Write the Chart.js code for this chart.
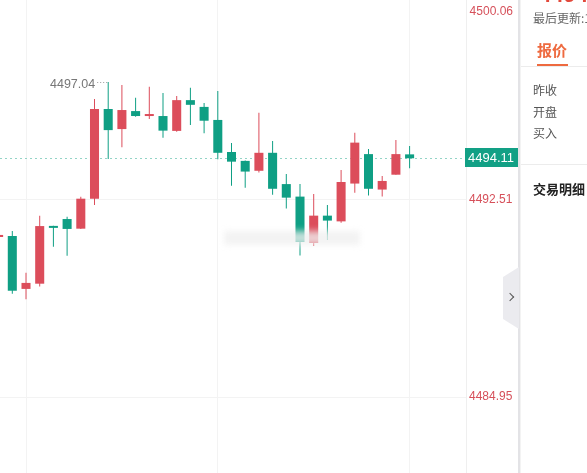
<!DOCTYPE html>
<html>
<head>
<meta charset="utf-8">
<script src="https://cdn.jsdelivr.net/npm/chart.js@4.4.1/dist/chart.umd.min.js"></script>
<style>
    body { margin: 0; background: #fff; }
    #tela { position: relative; width: 587px; height: 473px; overflow: hidden; font-family: "Noto Sans CJK SC", sans-serif; }
    #grafico { position: absolute; left: 0; top: 0; width: 518px; height: 473px; }
    #separador { position: absolute; left: 518px; top: 0; width: 2px; height: 473px; background: #e3e3e6; }
    #aba { position: absolute; left: 503px; top: 267px; width: 16px; height: 62px; background: #ebebef;
        clip-path: polygon(0 10px, 100% 0, 100% 100%, 0 calc(100% - 10px)); }
    #aba span { position: absolute; left: 4px; top: 27px; width: 5px; height: 5px;
        border-top: 1.5px solid #555; border-right: 1.5px solid #555; transform: rotate(45deg); }
    #marca { position: absolute; left: 224px; top: 231px; width: 136px; height: 14px;
        background: rgba(240, 240, 240, 0.8); filter: blur(3px); }
    #painel { position: absolute; left: 520px; top: 0; width: 67px; height: 473px; overflow: hidden;
        border-left: 1px solid #f3f3f3; box-sizing: border-box; }
    #painel div { position: absolute; white-space: nowrap; }
    .preco { left: 18px; top: -18px; font: bold 22px "Liberation Sans", sans-serif; color: #e2493b; }
    .atual { left: 12px; top: 9px; font-size: 12px; color: #666; }
    .aba-ativa { left: 16px; top: 39px; font-size: 15px; font-weight: bold; color: #ee6a3f; }
    .sublinhado { left: 16px; top: 64px; width: 31px; height: 2px; background: #ee6a3f; }
    .linha { left: 0; width: 67px; height: 1px; background: #ececec; }
    .item { left: 12px; font-size: 12px; color: #555; }
    .titulo { left: 12px; top: 179px; font-size: 13px; font-weight: bold; color: #222; }
</style>
</head>
<body>
<div id="tela">
    <div id="grafico"><canvas id="candleChart"></canvas></div>
    <div id="marca"></div>
    <div id="separador"></div>
    <div id="aba"><span></span></div>
    <div id="painel">
        <div class="preco">4494.11</div>
        <div class="atual">最后更新:10:25:31</div>
        <div class="aba-ativa">报价</div>
        <div class="sublinhado"></div>
        <div class="linha" style="top:66px"></div>
        <div class="item" style="top:81px">昨收</div>
        <div class="item" style="top:103px">开盘</div>
        <div class="item" style="top:124px">买入</div>
        <div class="linha" style="top:164px"></div>
        <div class="titulo">交易明细</div>
    </div>
</div>
<script>
// candle position (index) and OHLC values
const candleIndex = [-1, 0, 1, 2, 3, 4, 5, 6, 7, 8, 9, 10, 11, 12, 13, 14, 15, 16, 17, 18, 19, 20, 21, 22, 23, 24, 25, 26, 27, 28, 29];
const opens  = [4491.09, 4491.13, 4489.10, 4489.30, 4491.51, 4491.78, 4491.41, 4492.56, 4496.00, 4495.23, 4495.92, 4495.73, 4495.73, 4495.16, 4496.34, 4496.08, 4495.58, 4494.35, 4494.01, 4493.63, 4494.32, 4493.12, 4492.64, 4490.86, 4491.91, 4491.69, 4493.14, 4494.27, 4492.91, 4493.48, 4494.26];
const closes = [4491.17, 4489.03, 4489.33, 4491.51, 4491.44, 4491.40, 4492.56, 4496.00, 4495.19, 4495.96, 4495.73, 4495.79, 4495.17, 4496.34, 4496.16, 4495.55, 4494.32, 4493.98, 4493.60, 4494.32, 4492.94, 4492.60, 4490.90, 4491.91, 4491.72, 4493.20, 4494.71, 4492.94, 4493.24, 4494.27, 4494.11];
const highs  = [4491.22, 4491.32, 4489.72, 4491.91, 4491.52, 4491.87, 4492.63, 4496.38, 4497.04, 4496.92, 4496.43, 4496.85, 4496.61, 4496.50, 4496.81, 4496.23, 4496.69, 4494.70, 4494.02, 4495.86, 4494.77, 4493.51, 4493.12, 4492.74, 4492.32, 4493.66, 4495.09, 4494.47, 4493.43, 4494.81, 4494.58];
const lows   = [4491.05, 4488.91, 4488.70, 4489.19, 4490.72, 4490.37, 4491.40, 4492.32, 4494.08, 4494.53, 4495.70, 4495.62, 4494.90, 4495.13, 4495.39, 4495.07, 4494.07, 4493.06, 4492.98, 4493.56, 4492.71, 4492.18, 4490.38, 4490.75, 4490.98, 4491.64, 4492.79, 4492.68, 4492.64, 4493.48, 4493.73];

const yTicks = [4492.51, 4484.95];
const yTopTick = [4500.06];
const xGridTicks = [1, 15, 29];
const lastPrice = 4494.11;

const corAlta = '#dc4d5b';
const corBaixa = '#0f9f84';
const cores = opens.map((o, i) => closes[i] >= o ? corAlta : corBaixa);

const fonteNum = '"Liberation Sans", Arial, sans-serif';

// dotted price line, price tag and highest value label
const marcasPreco = {
    id: 'marcasPreco',
    beforeDatasetsDraw(chart) {
        const { ctx, chartArea, scales } = chart;
        const py = Math.round(scales.y.getPixelForValue(lastPrice)) + 0.5;
        ctx.save();
        ctx.strokeStyle = '#93d4c6';
        ctx.lineWidth = 1;
        ctx.setLineDash([2, 3]);
        ctx.beginPath();
        ctx.moveTo(chartArea.left, py);
        ctx.lineTo(chartArea.right, py);
        ctx.stroke();
        ctx.restore();
    },
    afterDraw(chart) {
        const { ctx, chartArea, scales } = chart;
        const py = scales.y.getPixelForValue(lastPrice);
        ctx.save();
        ctx.fillStyle = '#12a085';
        ctx.fillRect(chartArea.right - 1, Math.round(py) - 10, chart.width - chartArea.right + 1, 19);
        ctx.fillStyle = '#fff';
        ctx.font = '13px ' + fonteNum;
        ctx.textBaseline = 'middle';
        ctx.fillText(lastPrice.toFixed(2), chartArea.right + 2, Math.round(py));

        let maior = 0;
        for (let i = 0; i < highs.length; i++) {
            if (highs[i] > highs[maior]) maior = i;
        }
        const hx = scales.x.getPixelForValue(candleIndex[maior]);
        const hy = scales.y.getPixelForValue(highs[maior]);
        ctx.strokeStyle = '#9a9a9a';
        ctx.setLineDash([1, 2]);
        ctx.beginPath();
        ctx.moveTo(hx - 11, Math.round(hy) + 0.5);
        ctx.lineTo(hx - 1, Math.round(hy) + 0.5);
        ctx.stroke();
        ctx.fillStyle = '#777';
        ctx.font = '12.5px ' + fonteNum;
        ctx.textAlign = 'right';
        ctx.fillText(highs[maior].toFixed(2), hx - 13, hy + 2.5);
        ctx.restore();
    }
};

const yMax = 4500.18;
const yMin = 4482.04;

function semPadding(s) {
    s.paddingTop = 0;
    s.paddingBottom = 0;
}

const config = {
    type: 'bar',
    data: {
        datasets: [{
            label: 'wick',
            data: candleIndex.map((x, i) => ({ x: x, y: [lows[i], highs[i]] })),
            backgroundColor: cores,
            grouped: false,
            maxBarThickness: 1,
            categoryPercentage: 1
        },
        {
            label: 'body',
            data: candleIndex.map((x, i) => ({ x: x, y: [opens[i], closes[i]] })),
            backgroundColor: cores,
            grouped: false,
            barPercentage: 0.66,
            categoryPercentage: 1,
            minBarLength: 2
        }]
    },
    options: {
        responsive: true,
        maintainAspectRatio: false,
        animation: false,
        layout: { padding: 0 },
        plugins: { legend: { display: false }, tooltip: { enabled: false } },
        scales: {
            x: {
                type: 'linear',
                min: -0.898,
                max: 33.117,
                offset: false,
                grid: { color: '#f3f3f3', drawTicks: false, offset: false },
                border: { display: false },
                ticks: { display: false },
                afterBuildTicks: s => { s.ticks = xGridTicks.map(v => ({ value: v })); },
                afterFit: s => { s.height = 0; s.paddingLeft = 0; s.paddingRight = 0; }
            },
            yTop: {
                type: 'linear',
                position: 'right',
                weight: 0,
                min: yMin,
                max: yMax,
                grid: { display: false, drawTicks: false },
                border: { display: false },
                ticks: { color: '#d6505a', font: { size: 12, family: fonteNum }, mirror: true, padding: 47,
                    labelOffset: 8.5, callback: v => v.toFixed(2) },
                afterBuildTicks: s => { s.ticks = yTopTick.map(v => ({ value: v })); },
                afterFit: s => { s.width = 0; semPadding(s); }
            },
            y: {
                type: 'linear',
                position: 'right',
                weight: 1,
                min: yMin,
                max: yMax,
                grid: { color: '#f3f3f3', drawTicks: false },
                border: { color: '#efefef' },
                ticks: { color: '#d6505a', font: { size: 12, family: fonteNum }, padding: 3,
                    callback: v => v.toFixed(2) },
                afterBuildTicks: s => { s.ticks = yTicks.map(v => ({ value: v })); },
                afterFit: s => { s.width = 52; semPadding(s); }
            }
        }
    },
    plugins: [marcasPreco]
};

let myChart = new Chart(document.getElementById('candleChart'), config);
</script>
</body>
</html>
